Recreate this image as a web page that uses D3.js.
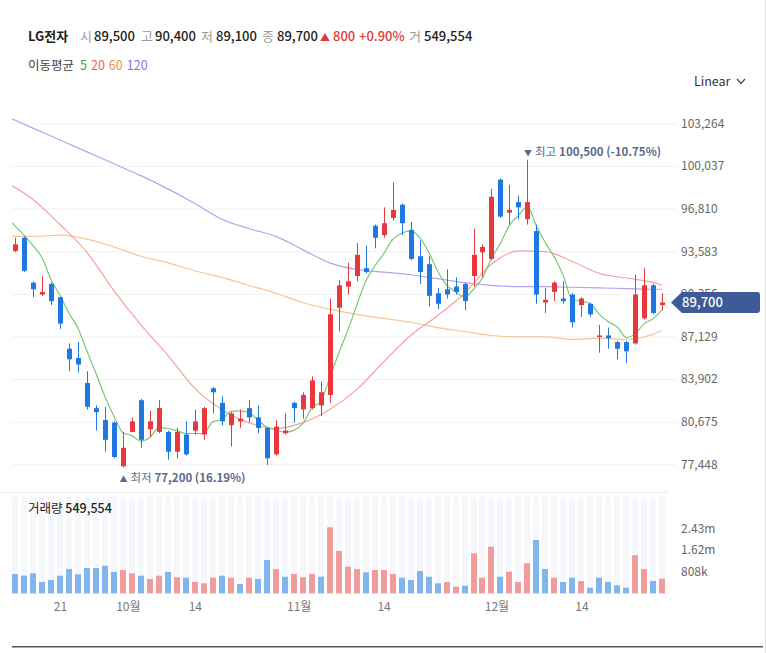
<!DOCTYPE html>
<html><head><meta charset="utf-8">
<script src="https://cdn.jsdelivr.net/npm/d3@7"></script>
<style>
html,body{margin:0;padding:0;background:#fff;}
svg{display:block;font-family:"Noto Sans CJK KR","Noto Sans",sans-serif;}
</style></head><body>
<svg id="c" width="766" height="653"></svg>
<script>
// ---------- data ----------
const stockName = "LG전자";
const dates = ["09-14","09-15","09-16","09-19","09-20","09-21","09-22","09-23","09-26","09-27","09-28","09-29","09-30",
"10-04","10-05","10-06","10-07","10-11","10-12","10-13","10-14","10-17","10-18","10-19","10-20","10-21","10-24","10-25","10-26","10-27","10-28","10-31",
"11-01","11-02","11-03","11-04","11-07","11-08","11-09","11-10","11-11","11-14","11-15","11-16","11-17","11-18","11-21","11-22","11-23","11-24","11-25","11-28","11-29","11-30",
"12-01","12-02","12-05","12-06","12-07","12-08","12-09","12-12","12-13","12-14","12-15","12-16","12-19","12-20","12-21","12-22","12-23","12-26","12-27"];
const opens = [93600,94600,91200,90300,91100,90100,86200,85500,83600,81700,80800,80600,77300,79900,82300,80100,79900,79900,78400,79700,80000,79700,83200,82100,80400,80700,81700,81000,80200,78200,79800,82100,81600,81700,81900,82700,89300,90900,91700,92300,95500,94800,96100,97100,95200,93200,92600,90400,90700,90900,91100,91700,93500,93000,99000,96500,97300,96000,95100,89700,90500,90000,90300,89500,89600,87100,87200,86700,86700,86600,88500,91000,89500];
const highs = [94600,94700,91300,91700,91200,90100,86600,86700,84500,81900,81800,80700,79900,81000,82400,81500,82300,80000,80200,80700,81600,81800,83300,82600,81400,81600,82300,81900,80300,80800,81300,82200,82900,84100,83700,90000,91400,92700,94200,94000,95600,96900,98800,97200,95800,94400,93200,90800,92200,91600,91200,95300,94100,98300,99100,98600,97800,100500,95600,90800,91300,91300,90400,90100,89700,88000,87800,86800,86800,91800,92300,91100,90400];
const lows = [93500,92000,90100,90200,89500,87700,84500,84400,81600,80000,78400,77900,77200,79900,78700,79500,79800,77800,77900,78100,79700,79300,81300,80400,78800,80200,80600,79800,77400,78100,79700,80600,80900,81600,81100,82100,87500,90300,91300,91900,93800,94600,95900,94800,92900,91100,89400,89200,90000,90300,89100,90900,91600,92900,96100,95600,96000,95600,89600,88900,89800,89600,87800,88600,88600,85900,86200,85400,85100,86500,88400,88800,89100];
const closes = [94100,92100,90700,90500,89800,88100,85400,85000,81800,81400,79300,78000,78700,80700,79300,80700,81700,78400,79900,78200,80700,81700,82900,80700,81300,80900,81000,80200,77900,80300,80000,81700,82700,83800,82900,88800,91000,91300,93300,92000,94600,95700,96700,95700,93000,92000,90200,89600,90300,90500,89800,93300,93900,97700,96200,96700,96900,97300,90300,89900,91200,89800,88200,90000,88800,87200,87000,86200,86000,90300,91000,88900,89700];
const volumes = [724000,661000,750000,426000,500000,661000,911000,713000,948000,948000,1034000,799000,873000,750000,661000,538000,661000,799000,601000,586000,426000,377000,586000,661000,586000,351000,586000,538000,1247000,911000,623000,724000,601000,724000,623000,2467000,1583000,997000,911000,788000,873000,873000,724000,586000,500000,836000,623000,377000,426000,250000,287000,1497000,586000,1743000,623000,810000,426000,1124000,1993000,911000,586000,426000,586000,463000,213000,586000,426000,302000,213000,1422000,911000,463000,549554];
const closeBeforeFirst = 94500;
// moving averages
const ma5Start = -1;
const ma5 = [96200,95500,94800,94000,93100,91440,90240,88900,87760,86020,84340,82580,81100,79840,79620,79200,79480,80220,80160,80000,79780,79780,79780,80680,80840,81460,81500,81360,80820,80260,80060,79880,80020,80520,81700,82220,83980,85840,87560,89460,91280,92440,93380,94460,94940,95140,94620,93520,92100,91020,90520,90080,90700,91560,93040,94180,95560,96280,96960,95480,94220,93120,91700,89880,89820,89600,88800,88240,87840,87040,87340,88100,88480,89180];
const maIdx = [-1,2,5,8,11,14,17,20,23,26,29,32,35,38,41,44,47,50,53,56,59,62,65,68,71,72];
const ma20 = [98800,97500,95600,93500,90600,88000,85700,83200,81600,80600,80150,80600,81600,83100,85200,87200,88700,90400,92600,93600,93550,92800,91900,91550,91200,91000];
const ma60 = [94700,94700,94800,94500,93900,93200,92700,92100,91600,91000,90400,89700,89200,88800,88500,88200,87800,87500,87200,87100,87100,86900,87000,86900,87300,87600];
const ma120 = [103800,102900,102000,101100,100200,99300,98300,97200,96000,95300,94700,93700,92700,92200,92000,91800,91500,91200,91000,90900,90900,90850,90800,90750,90700,90700];
const maNames = ["5","20","60","120"];
const priceTicks = [77448,80675,83902,87129,90356,93583,96810,100037,103264];
const volTicks = [808000,1620000,2430000];
const volTickLabels = ["808k","1.62m","2.43m"];
const xTickDates = ["09-21","10-04","10-14","11-01","11-14","12-01","12-14"];
const xTickLabels = ["21","10월","14","11월","14","12월","14"];

// ---------- styles ----------
const RED = "#e8383d", BLUE = "#1e78e0";
const VRED = "#f09b9c", VBLUE = "#80b5ee";
const MA_COLORS = ["#78c878","#f2a3a0","#f7c596","#bba0ec"];
const MA_TEXT = ["#43a047","#e4606a","#ef8f3c","#8e6ee0"];

const svg = d3.select("#c");
svg.append("rect").attr("width",766).attr("height",653).attr("fill","#fff");

const n = dates.length;
const x = d3.scaleLinear().domain([0, n-1]).range([15, 662.3]);
const y = d3.scaleLinear().domain([77448,103264]).range([464.3,123.3]);
const yv = d3.scaleLinear().domain([0,2430000]).range([593.4,528.3]);

// clip
const defs = svg.append("defs");
defs.append("clipPath").attr("id","pclip").append("rect").attr("x",12).attr("y",92).attr("width",656).attr("height",398);

// frame lines
svg.append("line").attr("x1",765.5).attr("x2",765.5).attr("y1",0).attr("y2",653).attr("stroke","#e2e2e2");
svg.append("line").attr("x1",0).attr("x2",668).attr("y1",492.5).attr("y2",492.5).attr("stroke","#ececec");
svg.append("line").attr("x1",12).attr("x2",763).attr("y1",646.8).attr("y2",646.8).attr("stroke","#555").attr("stroke-width",1.5);

// header
const hdr = svg.append("g").attr("font-size",13);
const last = n-1;
const chg = closes[last]-closes[last-1];
const pct = chg/closes[last-1]*100;
const fmt = d3.format(",");
hdr.append("text").attr("x",28).attr("y",41).attr("font-weight","bold").attr("fill","#222").text(stockName);
const hItems = [
  [80,"시","#999",400],[94,fmt(opens[last]),"#222",500],
  [141,"고","#999",400],[155,fmt(highs[last]),"#222",500],
  [201,"저","#999",400],[216,fmt(lows[last]),"#222",500],
  [262,"종","#999",400],[277,fmt(closes[last]),"#222",500],
  [320,(chg>=0?"▲":"▼"),"#e03a3a",400],[333,fmt(Math.abs(chg)),"#e03a3a",500],
  [359,(chg>=0?"+":"")+pct.toFixed(2)+"%","#e03a3a",500],
  [409,"거","#999",400],[424,fmt(volumes[last]),"#222",500]
];
hItems.forEach(d=>{
  hdr.append("text").attr("x",d[0]).attr("y",41).attr("fill",d[2]).attr("font-weight",d[3])
    .attr("font-size", d[1]==="▲"||d[1]==="▼" ? 10 : 13).text(d[1]);
});
const l2 = svg.append("text").attr("x",28).attr("y",70).attr("font-size",12.5);
l2.append("tspan").attr("fill","#444").text("이동평균");
maNames.forEach((m,i)=>l2.append("tspan").attr("dx",i===0?6:4).attr("fill",MA_TEXT[i]).text(m));

// Linear dropdown
svg.append("text").attr("x",694).attr("y",86).attr("font-size",12.5).attr("fill","#333").text("Linear");
svg.append("path").attr("d","M737,79 L741,83.5 L745,79").attr("fill","none").attr("stroke","#444").attr("stroke-width",1.2);

// grid
svg.append("g").selectAll("line").data(priceTicks).join("line")
  .attr("x1",12).attr("x2",676).attr("y1",d=>y(d)+0.5).attr("y2",d=>y(d)+0.5)
  .attr("stroke","#f1f1f1");

// price axis
const ay = svg.append("g").attr("transform","translate(681,0)")
  .call(d3.axisRight(y).tickValues(priceTicks).tickFormat(fmt).tickSize(0).tickPadding(0));
ay.select(".domain").remove();
ay.selectAll("text").attr("font-size",12).attr("fill","#666").attr("font-family","\"Noto Sans CJK KR\",sans-serif");

// price pane
const pp = svg.append("g").attr("clip-path","url(#pclip)");
const lineGen = d3.line().curve(d3.curveMonotoneX);
const maSeries = [
  ma5.map((v,i)=>[x(i+ma5Start), y(v)]),
  maIdx.map((k,i)=>[x(k), y(ma20[i])]),
  maIdx.map((k,i)=>[x(k), y(ma60[i])]),
  maIdx.map((k,i)=>[x(k), y(ma120[i])])
];
[3,2,1,0].forEach(k=>{
  pp.append("path").attr("d",lineGen(maSeries[k])).attr("fill","none")
    .attr("stroke",MA_COLORS[k]).attr("stroke-width",1.2);
});
const candles = pp.append("g").selectAll("g").data(d3.range(n)).join("g");
candles.append("line")
  .attr("x1",i=>Math.round(x(i))+0.5).attr("x2",i=>Math.round(x(i))+0.5)
  .attr("y1",i=>y(highs[i])).attr("y2",i=>y(lows[i]))
  .attr("stroke",i=>closes[i]>=opens[i]?RED:BLUE).attr("stroke-width",1);
candles.append("rect")
  .attr("x",i=>Math.round(x(i))-2).attr("width",5)
  .attr("y",i=>y(Math.max(opens[i],closes[i])))
  .attr("height",i=>Math.max(1.5, Math.abs(y(opens[i])-y(closes[i]))))
  .attr("fill",i=>closes[i]>=opens[i]?RED:BLUE);

// high / low annotations
const hiIdx = d3.maxIndex(highs), loIdx = d3.minIndex(lows);
const ann = svg.append("g").attr("font-size",11.5).attr("fill","#5b6a8c");
const hiT = ann.append("text").attr("x",x(hiIdx)-3.5).attr("y",y(highs[hiIdx])-3.5);
hiT.append("tspan").attr("font-size",8).text("▼");
hiT.append("tspan").attr("dx",3).text("최고");
hiT.append("tspan").attr("dx",3).attr("font-weight",600)
  .text(fmt(highs[hiIdx])+" ("+((closes[last]-highs[hiIdx])/highs[hiIdx]*100).toFixed(2)+"%)");
const loT = ann.append("text").attr("x",x(loIdx)-3.5).attr("y",y(lows[loIdx])+14.5);
loT.append("tspan").attr("font-size",8).text("▲");
loT.append("tspan").attr("dx",3).text("최저");
loT.append("tspan").attr("dx",3).attr("font-weight",600)
  .text(fmt(lows[loIdx])+" ("+((closes[last]-lows[loIdx])/lows[loIdx]*100).toFixed(2)+"%)");

// current price tag
const cy = y(closes[last]);
svg.append("path")
  .attr("d",`M671,${cy} L682,${cy-10.5} L757,${cy-10.5} Q760,${cy-10.5} 760,${cy-7.5} L760,${cy+7.5} Q760,${cy+10.5} 757,${cy+10.5} L682,${cy+10.5} Z`)
  .attr("fill","#3d5a99");
svg.append("text").attr("x",682).attr("y",cy+4.5).attr("font-size",13).attr("fill","#fff").attr("font-weight",500)
  .text(fmt(closes[last]));

// volume pane
const vp = svg.append("g");
vp.selectAll("rect.bg").data(d3.range(n)).join("rect").attr("class","bg")
  .attr("x",i=>Math.round(x(i))-3).attr("width",6).attr("y",497).attr("height",593.4-497)
  .attr("fill","#f6f7fb");
vp.selectAll("rect.v").data(d3.range(n)).join("rect").attr("class","v")
  .attr("x",i=>Math.round(x(i))-3).attr("width",6)
  .attr("y",i=>yv(volumes[i])).attr("height",i=>yv(0)-yv(volumes[i]))
  .attr("fill",i=>closes[i] >= (i===0?closeBeforeFirst:closes[i-1]) ? VRED : VBLUE);
const vt = svg.append("text").attr("x",28).attr("y",513).attr("font-size",12.5).attr("fill","#222");
vt.append("tspan").text("거래량 ");
vt.append("tspan").attr("font-weight",500).text(fmt(volumes[last]));

const av = svg.append("g").attr("transform","translate(681,0)")
  .call(d3.axisRight(yv).tickValues(volTicks).tickFormat((d,i)=>volTickLabels[i]).tickSize(0).tickPadding(0));
av.select(".domain").remove();
av.selectAll("text").attr("font-size",12).attr("fill","#666").attr("font-family","\"Noto Sans CJK KR\",sans-serif");

// x axis
const xTickIdx = xTickDates.map(d=>dates.indexOf(d));
const ax = svg.append("g").attr("transform","translate(0,600)")
  .call(d3.axisBottom(x).tickValues(xTickIdx).tickFormat((d,i)=>xTickLabels[i]).tickSize(0).tickPadding(2.5));
ax.select(".domain").remove();
ax.selectAll("text").attr("font-size",12).attr("fill","#777").attr("font-family","\"Noto Sans CJK KR\",sans-serif")
  .attr("dx",(d,i)=>xTickLabels[i].length>2?-4:0);
</script>
</body></html>
